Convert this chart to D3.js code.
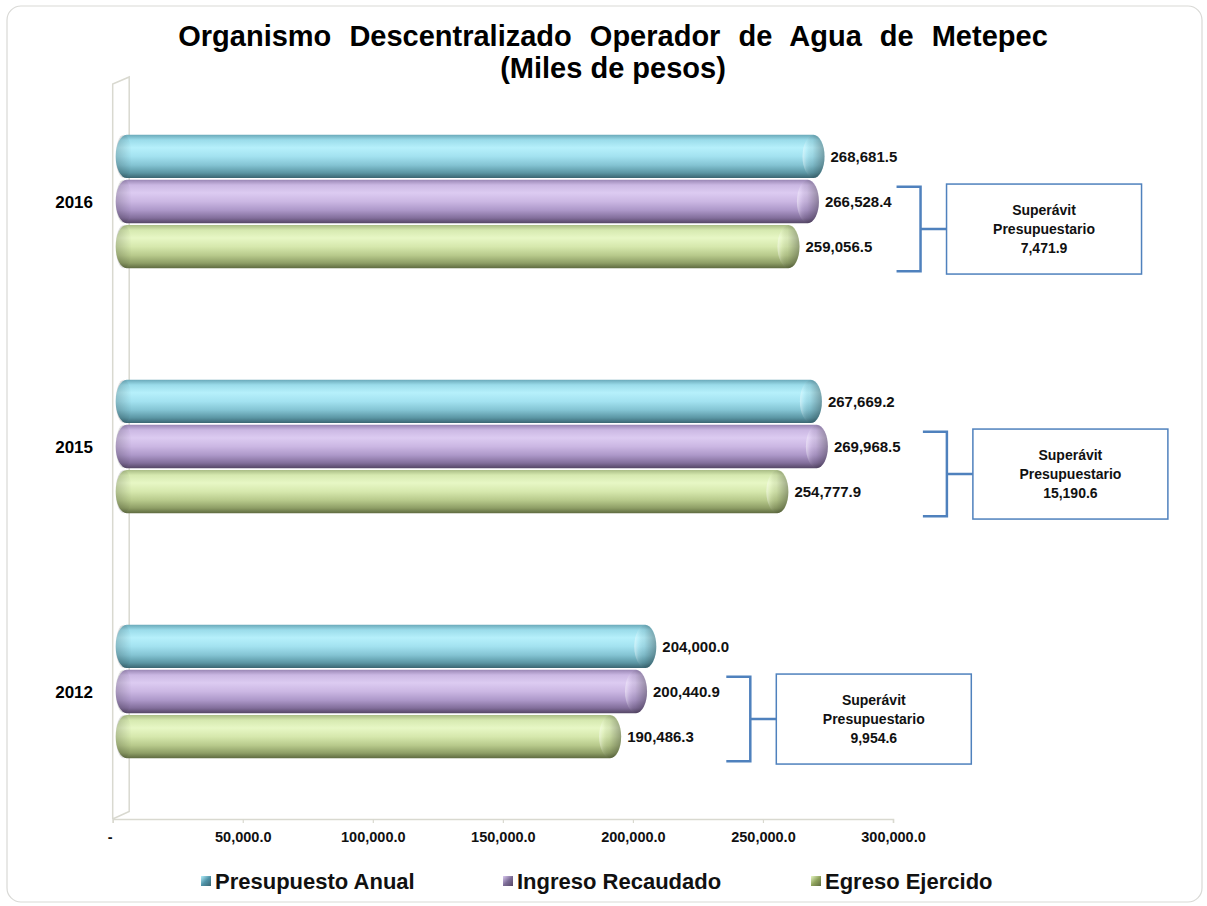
<!DOCTYPE html>
<html>
<head>
<meta charset="utf-8">
<script src="https://cdn.jsdelivr.net/npm/d3@7"></script>
<style>
    body { margin: 0; background: #fff; }
    text { font-family: "Liberation Sans", Arial, sans-serif; }
</style>
</head>
<body>
<svg id="barchart"></svg>
<script>

// DATOS
let anios = ["2016", "2015", "2012"];
let series = ["Presupuesto Anual", "Ingreso Recaudado", "Egreso Ejercido"];
let presupuesto = [268681.5, 267669.2, 204000.0];
let ingreso = [266528.4, 269968.5, 200440.9];
let egreso = [259056.5, 254777.9, 190486.3];
let ticks = [0, 50000, 100000, 150000, 200000, 250000, 300000];

let ancho = 1207
let alto = 906
let svg = d3.select('#barchart')
    .attr("width", ancho)
    .attr("height", alto);

let valores = [presupuesto, ingreso, egreso];
let data = [];
anios.forEach(function (a, i) {
    series.forEach(function (s, j) {
        data.push({ anio: a, serie: s, valor: valores[j][i] });
    });
});

// MARCO
svg.append("rect")
    .attr("x", 7).attr("y", 6)
    .attr("width", 1195).attr("height", 896)
    .attr("rx", 14)
    .attr("fill", "#fff")
    .attr("stroke", "#d9d9d6")
    .attr("stroke-width", 1.2);

// TITULO
svg.append("text")
    .attr("x", 613).attr("y", 46)
    .attr("text-anchor", "middle")
    .attr("font-size", 29).attr("font-weight", "bold")
    .attr("word-spacing", 10)
    .text("Organismo Descentralizado Operador de Agua de Metepec");
svg.append("text")
    .attr("x", 613).attr("y", 78)
    .attr("text-anchor", "middle")
    .attr("font-size", 29).attr("font-weight", "bold")
    .text("(Miles de pesos)");

// ESCALAS
let x = d3.scaleLinear().domain([0, 300000]).range([112.7, 893]);
let y0 = d3.scaleBand().domain(anios).range([79, 814])
    .paddingInner(0.455).paddingOuter(0.2275);
let y1 = d3.scaleBand().domain(series).range([0, y0.bandwidth()])
    .paddingInner(0.04);

// COLORES DE LOS CILINDROS
let gradientes = {
    "Presupuesto Anual": ["#6aa9b9", "#9bdcea", "#b6f0fb", "#a3e2f0", "#84c4d3", "#5b96a4", "#3a6571"],
    "Ingreso Recaudado": ["#9a87b5", "#cbb8e3", "#dccbf1", "#cbb7e3", "#ad98c9", "#836f9c", "#554766"],
    "Egreso Ejercido": ["#a9bc85", "#d6e9b0", "#e7f7c5", "#d6e8ad", "#b8ca8c", "#8e9e66", "#5e6a40"]
};
let marcas = {
    "Presupuesto Anual": "#4f93a8",
    "Ingreso Recaudado": "#7d6d98",
    "Egreso Ejercido": "#8fa35c"
};
let defs = svg.append("defs");
series.forEach(function (s, i) {
    let g = defs.append("linearGradient")
        .attr("id", "grad" + i)
        .attr("x1", 0).attr("y1", 0).attr("x2", 0).attr("y2", 1);
    let stops = [0, 0.12, 0.3, 0.5, 0.7, 0.88, 1];
    gradientes[s].forEach(function (c, k) {
        g.append("stop").attr("offset", stops[k]).attr("stop-color", c);
    });
    let m = defs.append("linearGradient")
        .attr("id", "marca" + i)
        .attr("x1", 0).attr("y1", 0).attr("x2", 1).attr("y2", 1);
    m.append("stop").attr("offset", 0).attr("stop-color", gradientes[s][2]);
    m.append("stop").attr("offset", 0.5).attr("stop-color", marcas[s]);
    m.append("stop").attr("offset", 1).attr("stop-color", gradientes[s][6]);
});
let tapa = defs.append("linearGradient")
    .attr("id", "tapa")
    .attr("x1", 0).attr("y1", 0).attr("x2", 1).attr("y2", 0);
tapa.append("stop").attr("offset", 0).attr("stop-color", "#fff").attr("stop-opacity", 0.45);
tapa.append("stop").attr("offset", 0.18).attr("stop-color", "#fff").attr("stop-opacity", 0.1);
tapa.append("stop").attr("offset", 0.45).attr("stop-color", "#000").attr("stop-opacity", 0.06);
tapa.append("stop").attr("offset", 1).attr("stop-color", "#000").attr("stop-opacity", 0.32);
let izq = defs.append("linearGradient")
    .attr("id", "izq")
    .attr("x1", 0).attr("y1", 0).attr("x2", 1).attr("y2", 0);
izq.append("stop").attr("offset", 0).attr("stop-color", "#000").attr("stop-opacity", 0.18);
izq.append("stop").attr("offset", 1).attr("stop-color", "#000").attr("stop-opacity", 0);

// PARED Y PISO
let pared = svg.append("g")
    .attr("fill", "none")
    .attr("stroke", "#d9d9d0")
    .attr("stroke-width", 1.5);
pared.append("path")
    .attr("d", "M" + x(0) + ",819 L" + x(0) + ",84 L" + (x(0) + 16.5) + ",77 L" + (x(0) + 16.5) + ",811.5 L" + x(0) + ",819");

// EJE X
let eje = svg.append("g")
    .attr("transform", "translate(0,819)")
    .call(d3.axisBottom(x)
        .tickValues(ticks)
        .tickSize(4)
        .tickPadding(9)
        .tickFormat(function (d) { return d === 0 ? "-" : d3.format(",.1f")(d); }));
eje.select(".domain").attr("stroke", "#d9d9d0").attr("stroke-width", 1.5);
eje.selectAll(".tick line").attr("stroke", "#d9d9d0").attr("stroke-width", 1.2);
eje.selectAll(".tick text")
    .attr("font-family", "Liberation Sans, Arial, sans-serif")
    .attr("font-size", 14.5).attr("font-weight", "bold")
    .attr("fill", "#111")
    .attr("dx", function (d) { return d === 0 ? -3 : 0; });

// ETIQUETAS DE LOS AÑOS
svg.selectAll(".anio")
    .data(anios)
    .enter()
    .append("text")
    .attr("class", "anio")
    .attr("x", 93)
    .attr("y", function (d) { return y0(d) + y0.bandwidth() / 2; })
    .attr("dy", "0.36em")
    .attr("text-anchor", "end")
    .attr("font-size", 17).attr("font-weight", "bold")
    .text(function (d) { return d; });

// DIBUJAR LOS CILINDROS
let radioTapa = 11;
let barras = svg.selectAll(".barra")
    .data(data)
    .enter()
    .append("g")
    .attr("class", "barra");

barras.append("rect")
    .attr("x", x(0) + 3)
    .attr("y", function (d) { return y0(d.anio) + y1(d.serie); })
    .attr("width", function (d) { return x(d.valor) + 13 - (x(0) + 3); })
    .attr("height", y1.bandwidth())
    .attr("rx", radioTapa).attr("ry", y1.bandwidth() / 2)
    .attr("fill", function (d) { return "url(#grad" + series.indexOf(d.serie) + ")"; });

barras.append("rect")
    .attr("x", x(0) + 3)
    .attr("y", function (d) { return y0(d.anio) + y1(d.serie); })
    .attr("width", 16)
    .attr("height", y1.bandwidth())
    .attr("rx", radioTapa).attr("ry", y1.bandwidth() / 2)
    .attr("fill", "url(#izq)");

barras.append("ellipse")
    .attr("cx", function (d) { return x(d.valor) + 13 - radioTapa; })
    .attr("cy", function (d) { return y0(d.anio) + y1(d.serie) + y1.bandwidth() / 2; })
    .attr("rx", radioTapa)
    .attr("ry", y1.bandwidth() / 2 - 0.5)
    .attr("fill", "url(#tapa)");

// ETIQUETAS DE VALORES
barras.append("text")
    .attr("x", function (d) { return x(d.valor) + 19; })
    .attr("y", function (d) { return y0(d.anio) + y1(d.serie) + y1.bandwidth() / 2; })
    .attr("dy", "0.36em")
    .attr("font-size", 15).attr("font-weight", "bold")
    .attr("fill", "#111")
    .text(function (d) { return d3.format(",.1f")(d.valor); });

// SUPERAVIT
let superavit = anios.map(function (a, i) { return ingreso[i] - egreso[i]; });
let desplaza = { "2016": 85, "2015": 108, "2012": 83 };
let azul = "#4f81bd";

anios.forEach(function (a, i) {
    let maximo = d3.max([presupuesto[i], ingreso[i], egreso[i]]);
    let bx = x(maximo) + desplaza[a];
    let top = y0(a) + y1(series[1]) + 7;
    let bottom = y0(a) + y1(series[2]) + y1.bandwidth() + 3;
    let medio = (top + bottom) / 2;
    let g = svg.append("g");
    g.append("path")
        .attr("d", "M" + bx + "," + top + " H" + (bx + 24) + " V" + bottom + " H" + bx +
            " M" + (bx + 24) + "," + medio + " H" + (bx + 50))
        .attr("fill", "none")
        .attr("stroke", azul)
        .attr("stroke-width", 2.5);
    g.append("rect")
        .attr("x", bx + 50)
        .attr("y", medio - 45)
        .attr("width", 195)
        .attr("height", 90)
        .attr("fill", "#fff")
        .attr("stroke", azul)
        .attr("stroke-width", 1.5);
    let lineas = ["Superávit", "Presupuestario", d3.format(",.1f")(superavit[i])];
    lineas.forEach(function (t, k) {
        g.append("text")
            .attr("x", bx + 50 + 97.5)
            .attr("y", medio + (k - 1) * 19)
            .attr("dy", "0.36em")
            .attr("text-anchor", "middle")
            .attr("font-size", 14).attr("font-weight", "bold")
            .attr("fill", "#111")
            .text(t);
    });
});

// LEYENDA
let leyendaX = [201, 503, 811];
let leyenda = svg.selectAll(".leyenda")
    .data(series)
    .enter()
    .append("g")
    .attr("class", "leyenda")
    .attr("transform", function (d, i) { return "translate(" + leyendaX[i] + ",881)"; });
leyenda.append("rect")
    .attr("x", 0).attr("y", -5)
    .attr("width", 10).attr("height", 10)
    .attr("fill", function (d, i) { return "url(#marca" + i + ")"; });
leyenda.append("text")
    .attr("x", 14)
    .attr("dy", "0.36em")
    .attr("font-size", 22).attr("font-weight", "bold")
    .attr("fill", "#111")
    .text(function (d) { return d; });

</script>
</body>
</html>
